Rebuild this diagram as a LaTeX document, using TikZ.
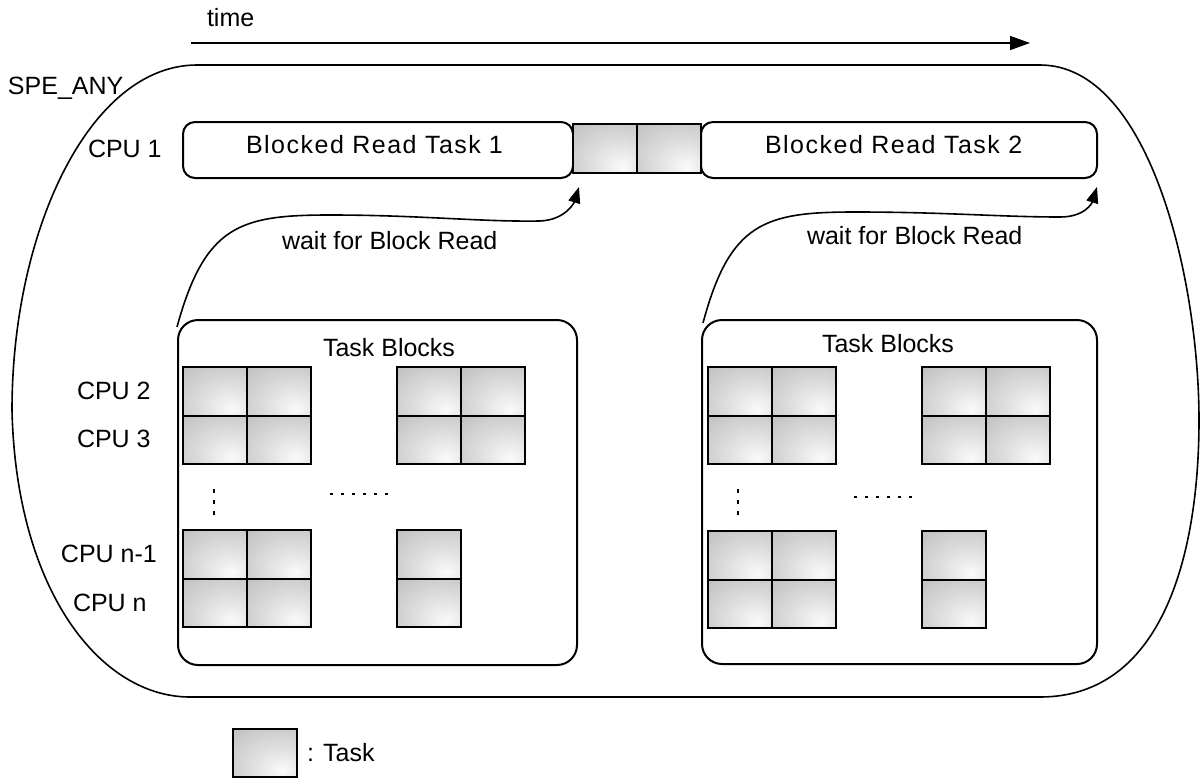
\documentclass[tikz,border=0pt]{standalone}
\usepackage{fontspec}
\setmainfont{Liberation Sans}
\newfontfamily\spacedfont[LetterSpace=6]{Liberation Sans}
\usetikzlibrary{arrows.meta}
\pgfdeclareradialshading{taskshade}{\pgfpoint{14bp}{-19bp}}{color(0bp)=(black!2); color(22bp)=(black!13); color(55bp)=(black!28); color(100bp)=(black!30)}
\tikzset{
  cell/.style={draw, line width=1pt, shade, shading=taskshade, minimum width=32pt, minimum height=24.3pt, inner sep=0pt, outer sep=0pt, anchor=north west},
  rbox/.style={draw, line width=1pt, rounded corners=6pt, inner sep=0pt, outer sep=0pt},
  tbox/.style={draw, line width=1pt, rounded corners=10pt, inner sep=0pt, outer sep=0pt},
  lbl/.style={inner sep=0pt, outer sep=0pt, anchor=base west},
  wavy/.style={line width=0.8pt, -{Triangle[length=8pt,width=6pt]}},
  hdots/.style={line width=1pt, dash pattern=on 1.5pt off 4pt},
  vdots/.style={line width=1pt, dash pattern=on 2pt off 3.5pt},
}
\begin{document}
\begin{tikzpicture}[x=0.5pt,y=-0.5pt, font=\fontsize{12.5}{15}\selectfont]
\useasboundingbox (0,0) rectangle (1201,782);

% outer SPE_ANY region
\draw[line width=0.8pt] (197,65) .. controls (90,65) and (12,230) .. (12,410)
  .. controls (16,590) and (100,697) .. (190,697) -- (1040,697)
  .. controls (1160,697) and (1199,560) .. (1199,420)
  .. controls (1199,280) and (1150,65) .. (1040,65) -- cycle;

% time axis
\node[lbl] (time) at (207,26) {time};
\coordinate (t0) at (191,43);
\coordinate (t1) at (1030,43);
\draw[line width=0.8pt, -{Triangle[length=10pt,width=7pt]}] (t0) -- (t1);

\node[lbl] (spe) at (8,94) {SPE\_ANY};

% CPU labels
\node[lbl] (cpu1) at (88,157) {CPU 1};
\node[lbl] (cpu2) at (77,399) {CPU 2};
\node[lbl] (cpu3) at (77,447) {CPU 3};
\node[lbl] (cpun1) at (61,562) {CPU n-1};
\node[lbl] (cpun) at (73,611) {CPU n};

% CPU 1 row
\node[rbox, minimum width=195pt, minimum height=28pt] (br1) at (378,150) {};
\node[rbox, minimum width=198pt, minimum height=28pt] (br2) at (899,150) {};
\node[cell, minimum height=24.5pt] (p1) at (573,124) {};
\node[cell, minimum height=24.5pt] (p2) at (637,124) {};
\node[lbl, font=\fontsize{12.5}{15}\spacedfont] (br1t) at (246,153) {Blocked Read Task\hspace{4pt}1};
\node[lbl, font=\fontsize{12.5}{15}\spacedfont] (br2t) at (765,153) {Blocked Read Task 2};

% task block containers
\node[tbox, minimum width=199.5pt, minimum height=172.5pt] (tb1) at (377.5,492.5) {};
\node[tbox, minimum width=197.5pt, minimum height=172pt] (tb2) at (899.5,492) {};
\node[lbl] (tb1t) at (323,356) {Task Blocks};
\node[lbl] (tb2t) at (822,352) {Task Blocks};

% cells, block 1
\foreach \x/\n in {183/a,247/b,397/c,461/d}{
  \node[cell] (u1\n1) at (\x,367) {};
  \node[cell] (u1\n2) at (\x,415.5) {};
}
\foreach \x/\n in {183/a,247/b,397/c}{
  \node[cell] (l1\n1) at (\x,530) {};
  \node[cell] (l1\n2) at (\x,578.5) {};
}
% cells, block 2
\foreach \x/\n in {708/a,772/b,922/c,986/d}{
  \node[cell] (u2\n1) at (\x,367) {};
  \node[cell] (u2\n2) at (\x,415.5) {};
}
\foreach \x/\n in {708/a,772/b,922/c}{
  \node[cell] (l2\n1) at (\x,531) {};
  \node[cell] (l2\n2) at (\x,579.5) {};
}

% ellipses
\draw[vdots] (214,489) -- (214,515);
\draw[hdots] (330,494) -- (388,494);
\draw[vdots] (738,489) -- (738,515);
\draw[hdots] (854,497) -- (912,497);

% wait arrows
\draw[wavy] ([shift={(-1,7)}]tb1.north west) .. controls (205,225) and (240,215) .. (330,215)
  .. controls (420,215) and (480,222) .. (540,221)
  .. controls (565,220) and (574,203) .. ([shift={(6,14)}]p1.south west);
\node[lbl] (w1) at (282,249) {wait for Block Read};
\draw[wavy] ([shift={(1,3)}]tb2.north west) .. controls (730,222) and (765,212) .. (855,212)
  .. controls (945,212) and (1000,217) .. (1060,217)
  .. controls (1085,217) and (1092,203) .. ([shift={(0,9)}]br2.south east);
\node[lbl] (w2) at (807,244) {wait for Block Read};

% legend
\node[cell, minimum height=24pt] (leg) at (233,729) {};
\node[lbl] (legt) at (307,761) {: Task};
\end{tikzpicture}
\end{document}
